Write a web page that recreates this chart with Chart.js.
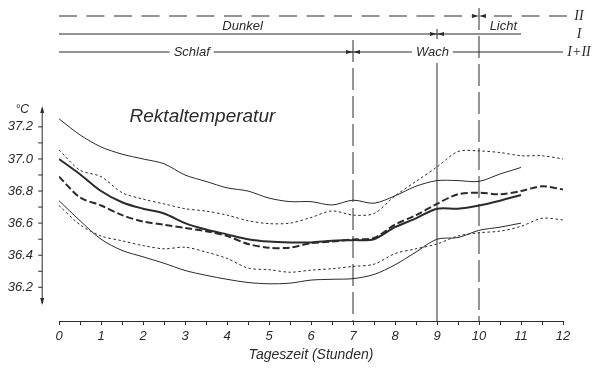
<!DOCTYPE html>
<html>
<head>
<meta charset="utf-8">
<script src="https://cdn.jsdelivr.net/npm/chart.js@4.4.0/dist/chart.umd.min.js"></script>
<style>
    html, body { margin: 0; padding: 0; background: #fff; }
    #wrap { width: 600px; height: 368px; }
</style>
</head>
<body>
<div id="wrap"><canvas id="chart" width="600" height="368"></canvas></div>
<script>
// Tageszeit in Stunden (half-hour readings)
const hours = [0, 0.5, 1, 1.5, 2, 2.5, 3, 3.5, 4, 4.5, 5, 5.5, 6, 6.5, 7, 7.5, 8, 8.5, 9, 9.5, 10, 10.5, 11, 11.5, 12];

// Versuch I (solid lines, end at 11 h)
const upperI = [37.25, 37.15, 37.075, 37.03, 37.0, 36.97, 36.9, 36.86, 36.82, 36.8, 36.756, 36.734, 36.734, 36.713, 36.743, 36.724, 36.77, 36.83, 36.865, 36.865, 36.86, 36.906, 36.947];
const meanI = [37.0, 36.905, 36.8, 36.73, 36.69, 36.66, 36.6, 36.56, 36.53, 36.5, 36.485, 36.48, 36.48, 36.49, 36.494, 36.5, 36.575, 36.63, 36.69, 36.69, 36.71, 36.74, 36.775];
const lowerI = [36.74, 36.615, 36.5, 36.43, 36.39, 36.35, 36.305, 36.275, 36.25, 36.23, 36.222, 36.226, 36.245, 36.25, 36.254, 36.28, 36.34, 36.42, 36.5, 36.51, 36.555, 36.575, 36.6];

// Versuch II (dashed / dotted lines, end at 12 h)
const upperII = [37.056, 36.93, 36.89, 36.79, 36.75, 36.72, 36.69, 36.675, 36.65, 36.615, 36.597, 36.6, 36.635, 36.676, 36.65, 36.66, 36.77, 36.86, 36.95, 37.046, 37.05, 37.04, 37.02, 37.02, 37.0];
const meanII = [36.89, 36.76, 36.71, 36.65, 36.61, 36.59, 36.57, 36.55, 36.52, 36.47, 36.447, 36.447, 36.475, 36.485, 36.498, 36.507, 36.59, 36.65, 36.72, 36.78, 36.79, 36.78, 36.8, 36.83, 36.81];
const lowerII = [36.71, 36.59, 36.52, 36.49, 36.46, 36.44, 36.45, 36.42, 36.38, 36.32, 36.31, 36.294, 36.307, 36.316, 36.33, 36.344, 36.41, 36.44, 36.47, 36.52, 36.54, 36.55, 36.58, 36.63, 36.62];

const xTicks = [0, 0.5, 1, 1.5, 2, 2.5, 3, 3.5, 4, 4.5, 5, 5.5, 6, 6.5, 7, 7.5, 8, 8.5, 9, 9.5, 10, 10.5, 11, 11.5, 12];
const yTicks = [36.2, 36.3, 36.4, 36.5, 36.6, 36.7, 36.8, 36.9, 37.0, 37.1, 37.2];

// phase markers (hours)
const sleepEnd = 7;
const darkEnd = 9;
const lightII = 10;
const endI = 11;
const endII = 12;

const INK = '#2b2b2b';
const SANS = '"Liberation Sans", Arial, sans-serif';
const SERIF = '"Liberation Serif", "Times New Roman", serif';

function series(values, width, dash) {
    return {
        data: values.map((v, i) => ({ x: hours[i], y: v })),
        borderColor: INK,
        borderWidth: width,
        borderDash: dash,
        pointRadius: 0,
        tension: 0.3,
        fill: false,
    };
}

function arrowHead(ctx, x, y, dir) {
    // dir: 1 points right, -1 left, 2 up, -2 down
    ctx.beginPath();
    if (Math.abs(dir) === 1) {
        ctx.moveTo(x, y);
        ctx.lineTo(x - dir * 7, y - 2);
        ctx.lineTo(x - dir * 7, y + 2);
    } else {
        const d = dir > 0 ? -1 : 1;
        ctx.moveTo(x, y);
        ctx.lineTo(x - 2, y - d * 7);
        ctx.lineTo(x + 2, y - d * 7);
    }
    ctx.closePath();
    ctx.fill();
}

function line(ctx, x1, y1, x2, y2, dash) {
    ctx.save();
    ctx.setLineDash(dash || []);
    ctx.beginPath();
    ctx.moveTo(x1, y1);
    ctx.lineTo(x2, y2);
    ctx.stroke();
    ctx.restore();
}

function gappedLine(ctx, x1, x2, y, text, cx) {
    const w = ctx.measureText(text).width;
    line(ctx, x1, y, cx - w / 2 - 4, y);
    line(ctx, cx + w / 2 + 4, y, x2, y);
    ctx.fillText(text, cx, y);
}

const decorations = {
    id: 'decorations',
    afterDraw(chart) {
        const { ctx, chartArea: area } = chart;
        const X = (h) => chart.scales.x.getPixelForValue(h);
        const Y = (v) => chart.scales.y.getPixelForValue(v);
        ctx.save();
        ctx.strokeStyle = INK;
        ctx.fillStyle = INK;
        ctx.lineWidth = 1;

        // y axis with arrows, offset left of the plot
        const ax = X(-0.4);
        line(ctx, ax, Y(37.31), ax, Y(36.1));
        arrowHead(ctx, ax, Y(37.33), 2);
        arrowHead(ctx, ax, Y(36.09), -2);
        yTicks.forEach((v) => line(ctx, ax - 4, Y(v), ax, Y(v)));

        ctx.font = 'italic 12px ' + SANS;
        ctx.textAlign = 'center';
        ctx.textBaseline = 'middle';
        ctx.fillText('°C', ax - 20, Y(37.31));

        ctx.font = 'italic 19px ' + SANS;
        ctx.textAlign = 'left';
        ctx.textBaseline = 'alphabetic';
        ctx.fillText('Rektaltemperatur', X(1.68), Y(37.228));

        // phase rows
        const rowII = 16, rowI = 34, rowBoth = 52;
        const longDash = [18, 9.5];
        const vDash = [22, 6];

        // II: dunkel / licht (dashed)
        line(ctx, X(0), rowII, X(lightII) - 6, rowII, longDash);
        line(ctx, X(endII) + 4, rowII, X(lightII) + 6, rowII, longDash);
        arrowHead(ctx, X(lightII), rowII, 1);
        arrowHead(ctx, X(lightII), rowII, -1);

        // I: dunkel / licht (solid)
        line(ctx, X(0), rowI, X(darkEnd), rowI);
        line(ctx, X(darkEnd), rowI, X(endI), rowI);
        arrowHead(ctx, X(darkEnd), rowI, 1);
        arrowHead(ctx, X(darkEnd), rowI, -1);
        line(ctx, X(darkEnd), rowI - 5, X(darkEnd), rowI + 5);

        ctx.font = 'italic 13px ' + SANS;
        ctx.textAlign = 'center';
        ctx.textBaseline = 'middle';
        ctx.fillText('Dunkel', X(4.37), 26);
        ctx.fillText('Licht', X(10.58), 26);

        // I+II: schlaf / wach
        gappedLine(ctx, X(0), X(sleepEnd), rowBoth, 'Schlaf', X(3.16));
        gappedLine(ctx, X(sleepEnd), X(endII), rowBoth, 'Wach', X(8.89));
        arrowHead(ctx, X(sleepEnd), rowBoth, 1);
        arrowHead(ctx, X(sleepEnd), rowBoth, -1);

        // vertical phase lines
        line(ctx, X(sleepEnd), 40, X(sleepEnd), area.bottom, vDash);
        line(ctx, X(darkEnd), 63, X(darkEnd), area.bottom);
        line(ctx, X(lightII), 8, X(lightII), area.bottom, vDash);

        // row labels
        ctx.font = 'italic 14px ' + SERIF;
        ctx.fillText('II', X(endII) + 16, rowII);
        ctx.fillText('I', X(endII) + 16, rowI);
        ctx.fillText('I+II', X(endII) + 16, rowBoth);
        ctx.restore();
    },
};

new Chart(document.getElementById('chart'), {
    type: 'line',
    data: {
        datasets: [
            series(upperI, 1, []),
            series(meanI, 2, []),
            series(lowerI, 1, []),
            series(upperII, 1, [2.5, 2.5]),
            series(meanII, 2, [7, 3]),
            series(lowerII, 1, [2.5, 2.5]),
        ],
    },
    options: {
        responsive: false,
        animation: false,
        devicePixelRatio: 1,
        layout: { padding: { top: 4, right: 37, bottom: 0, left: 0 } },
        plugins: { legend: { display: false }, tooltip: { enabled: false } },
        scales: {
            x: {
                type: 'linear',
                min: 0,
                max: 12,
                afterBuildTicks: (axis) => { axis.ticks = xTicks.map((v) => ({ value: v })); },
                afterFit: (axis) => { axis.height = 47; },
                grid: { drawOnChartArea: false, drawTicks: true, tickLength: 4, color: INK },
                border: { display: true, color: INK, width: 1 },
                ticks: {
                    autoSkip: false,
                    maxRotation: 0,
                    padding: 4,
                    color: INK,
                    font: { family: SANS, size: 13, style: 'italic' },
                    callback: (v) => (Number.isInteger(v) ? String(v) : ''),
                },
                title: {
                    display: true,
                    text: 'Tageszeit (Stunden)',
                    color: INK,
                    font: { family: SANS, size: 14, style: 'italic' },
                    padding: { top: 0, bottom: 4 },
                },
            },
            y: {
                min: 35.99,
                max: 37.78,
                afterBuildTicks: (axis) => { axis.ticks = yTicks.map((v) => ({ value: v })); },
                afterFit: (axis) => { axis.width = 59; },
                grid: { display: false, drawTicks: false },
                border: { display: false },
                ticks: {
                    padding: 26,
                    color: INK,
                    font: { family: SANS, size: 13, style: 'italic' },
                    callback: (v, i) => (i % 2 === 0 ? v.toFixed(1) : ''),
                },
            },
        },
    },
    plugins: [decorations],
});
</script>
</body>
</html>
